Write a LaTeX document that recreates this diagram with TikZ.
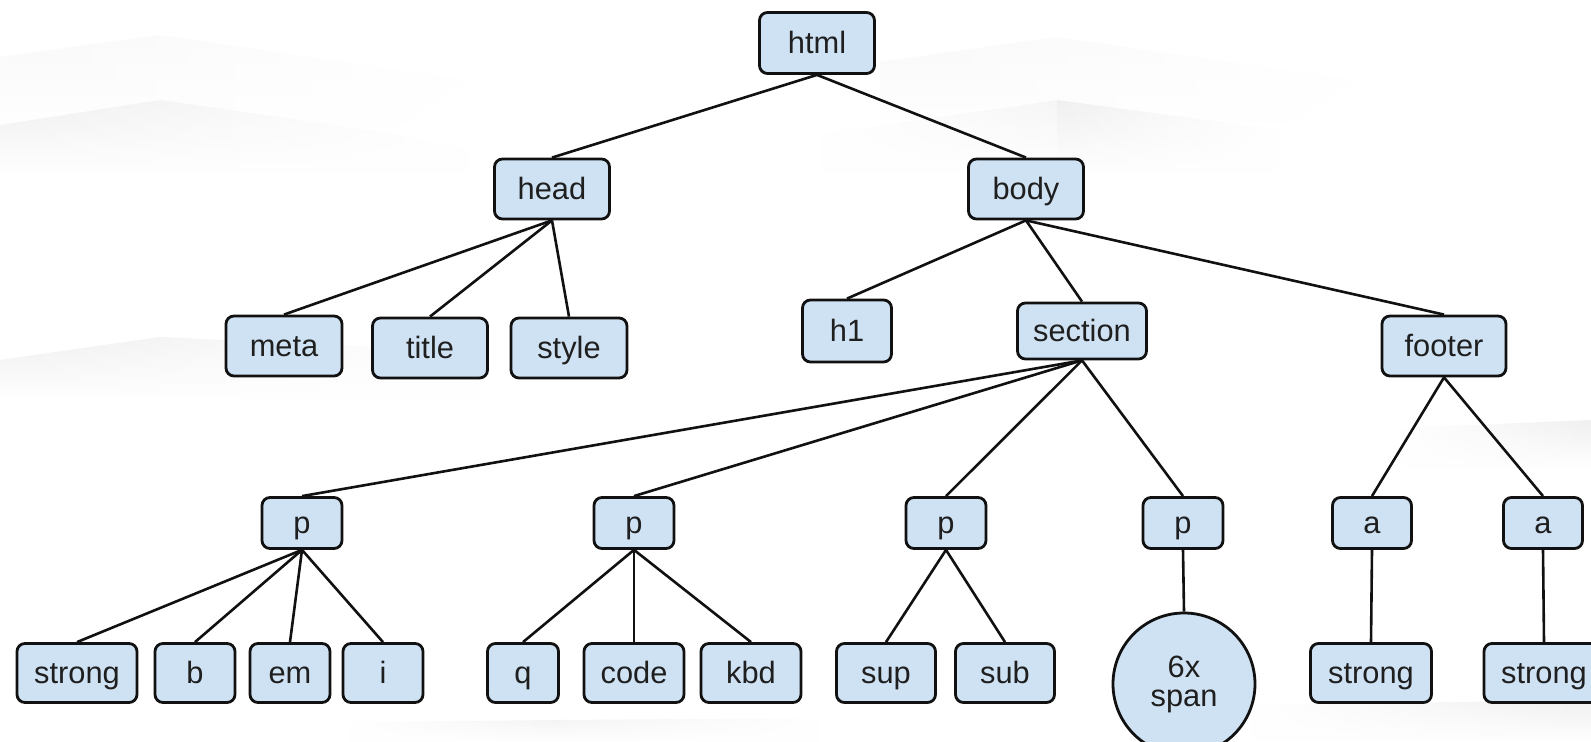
\documentclass[tikz,border=0pt]{standalone}
\usepackage{fontspec}
\setmainfont{Liberation Sans}
\usetikzlibrary{shapes.geometric,fadings}
\definecolor{boxblue}{HTML}{CFE2F3}
\definecolor{ink}{HTML}{111111}
\tikzfading[name=fadeout right, left color=transparent!0, right color=transparent!100]
\tikzfading[name=fadeout left, left color=transparent!100, right color=transparent!0]
\tikzset{
  px/.style={x=0.5pt,y=-0.5pt},
  label font/.style={font=\fontsize{15.4}{14.5}\selectfont, text=black!88},
  tag/.style={draw=ink, fill=boxblue, line width=1.4pt, rounded corners=4pt,
    inner sep=0pt, text height=11pt, text depth=0pt, label font},
  sz/.style 2 args={minimum width=#1*0.5pt, minimum height=#2*0.5pt},
  many/.style={draw=ink, fill=boxblue, line width=1.4pt, circle, inner sep=0pt,
    minimum size=71pt, align=center, label font},
  edge/.style={draw=ink, line width=1.3pt},
  ridge/.style={top color=black!6, bottom color=white, draw=none},
  plate/.style={top color=black!2.5, bottom color=white, draw=none},
}
\begin{document}
\begin{tikzpicture}[px]
\useasboundingbox (0,0) rectangle (1591,742);
\fill[white] (0,0) rectangle (1591,742);

% faint shelves in the background
\shade[plate, path fading=fadeout right] (0,57) -- (160,35) -- (467,80) -- (390,133) -- (160,100) -- (0,125) -- cycle;
\shade[ridge, path fading=fadeout right] (0,125) -- (160,100) -- (390,133) -- (470,150) -- (470,175) -- (0,175) -- cycle;
\shade[plate, path fading=fadeout right] (880,62) -- (1057,37) -- (1355,80) -- (1279,130) -- (1057,100) -- (880,120) -- cycle;
\shade[ridge, path fading=fadeout left, opacity=0.6] (820,134) -- (1057,100) -- (1057,175) -- (820,175) -- cycle;
\shade[ridge, path fading=fadeout right] (1057,100) -- (1279,130) -- (1279,175) -- (1057,175) -- cycle;
\shade[ridge, path fading=fadeout right] (0,360) -- (160,337) -- (480,352) -- (480,400) -- (0,400) -- cycle;
\shade[ridge, path fading=fadeout left] (1400,428) -- (1591,420) -- (1591,470) -- (1400,470) -- cycle;
\shade[ridge, path fading=fadeout left] (1250,705) -- (1591,700) -- (1591,742) -- (1250,742) -- cycle;
\shade[ridge, path fading=fadeout left, opacity=0.7] (350,722) -- (560,720) -- (560,742) -- (350,742) -- cycle;
\shade[ridge, path fading=fadeout right, opacity=0.7] (560,720) -- (820,718) -- (820,742) -- (560,742) -- cycle;

% element nodes
\node[tag, sz={115}{61}] (html) at (817,43) {html};
\node[tag, sz={115}{60}] (head) at (552,189) {head};
\node[tag, sz={115}{60}] (body) at (1026,189) {body};

\node[tag, sz={116}{60}] (meta) at (284,346) {meta};
\node[tag, sz={115}{60}] (title) at (430,348) {title};
\node[tag, sz={116}{60}] (style) at (569,348) {style};
\node[tag, sz={89}{62}] (h1) at (847,331) {h1};
\node[tag, sz={129}{56}] (section) at (1082,331) {section};
\node[tag, sz={124}{60}] (footer) at (1444,346) {footer};

\node[tag, sz={80}{51}] (p1) at (302,523) {p};
\node[tag, sz={80}{51}] (p2) at (634,523) {p};
\node[tag, sz={80}{51}] (p3) at (946,523) {p};
\node[tag, sz={80}{51}] (p4) at (1183,523) {p};
\node[tag, sz={79}{51}] (a1) at (1372,523) {a};
\node[tag, sz={79}{51}] (a2) at (1543,523) {a};

\node[tag, sz={120}{59}] (strong1) at (77,673) {strong};
\node[tag, sz={80}{59}] (b) at (195,673) {b};
\node[tag, sz={80}{59}] (em) at (290,673) {em};
\node[tag, sz={80}{59}] (i) at (383,673) {i};
\node[tag, sz={71}{59}] (q) at (523,673) {q};
\node[tag, sz={100}{59}] (code) at (634,673) {code};
\node[tag, sz={100}{59}] (kbd) at (751,673) {kbd};
\node[tag, sz={99}{59}] (sup) at (886,673) {sup};
\node[tag, sz={99}{59}] (sub) at (1005,673) {sub};
\node[many] (span) at (1184,684) {6x\\span};
\node[tag, sz={121}{59}] (strong2) at (1371,673) {strong};
\node[tag, sz={120}{59}] (strong3) at (1544,673) {strong};

% parent-child links
\foreach \p/\c in {html/head, html/body,
  head/meta, head/title, head/style,
  body/h1, body/section, body/footer,
  section/p1, section/p2, section/p3, section/p4,
  footer/a1, footer/a2,
  p1/strong1, p1/b, p1/em, p1/i,
  p2/q, p2/code, p2/kbd,
  p3/sup, p3/sub,
  p4/span, a1/strong2, a2/strong3}
  \draw[edge] (\p.south) -- (\c.north);
\end{tikzpicture}
\end{document}
